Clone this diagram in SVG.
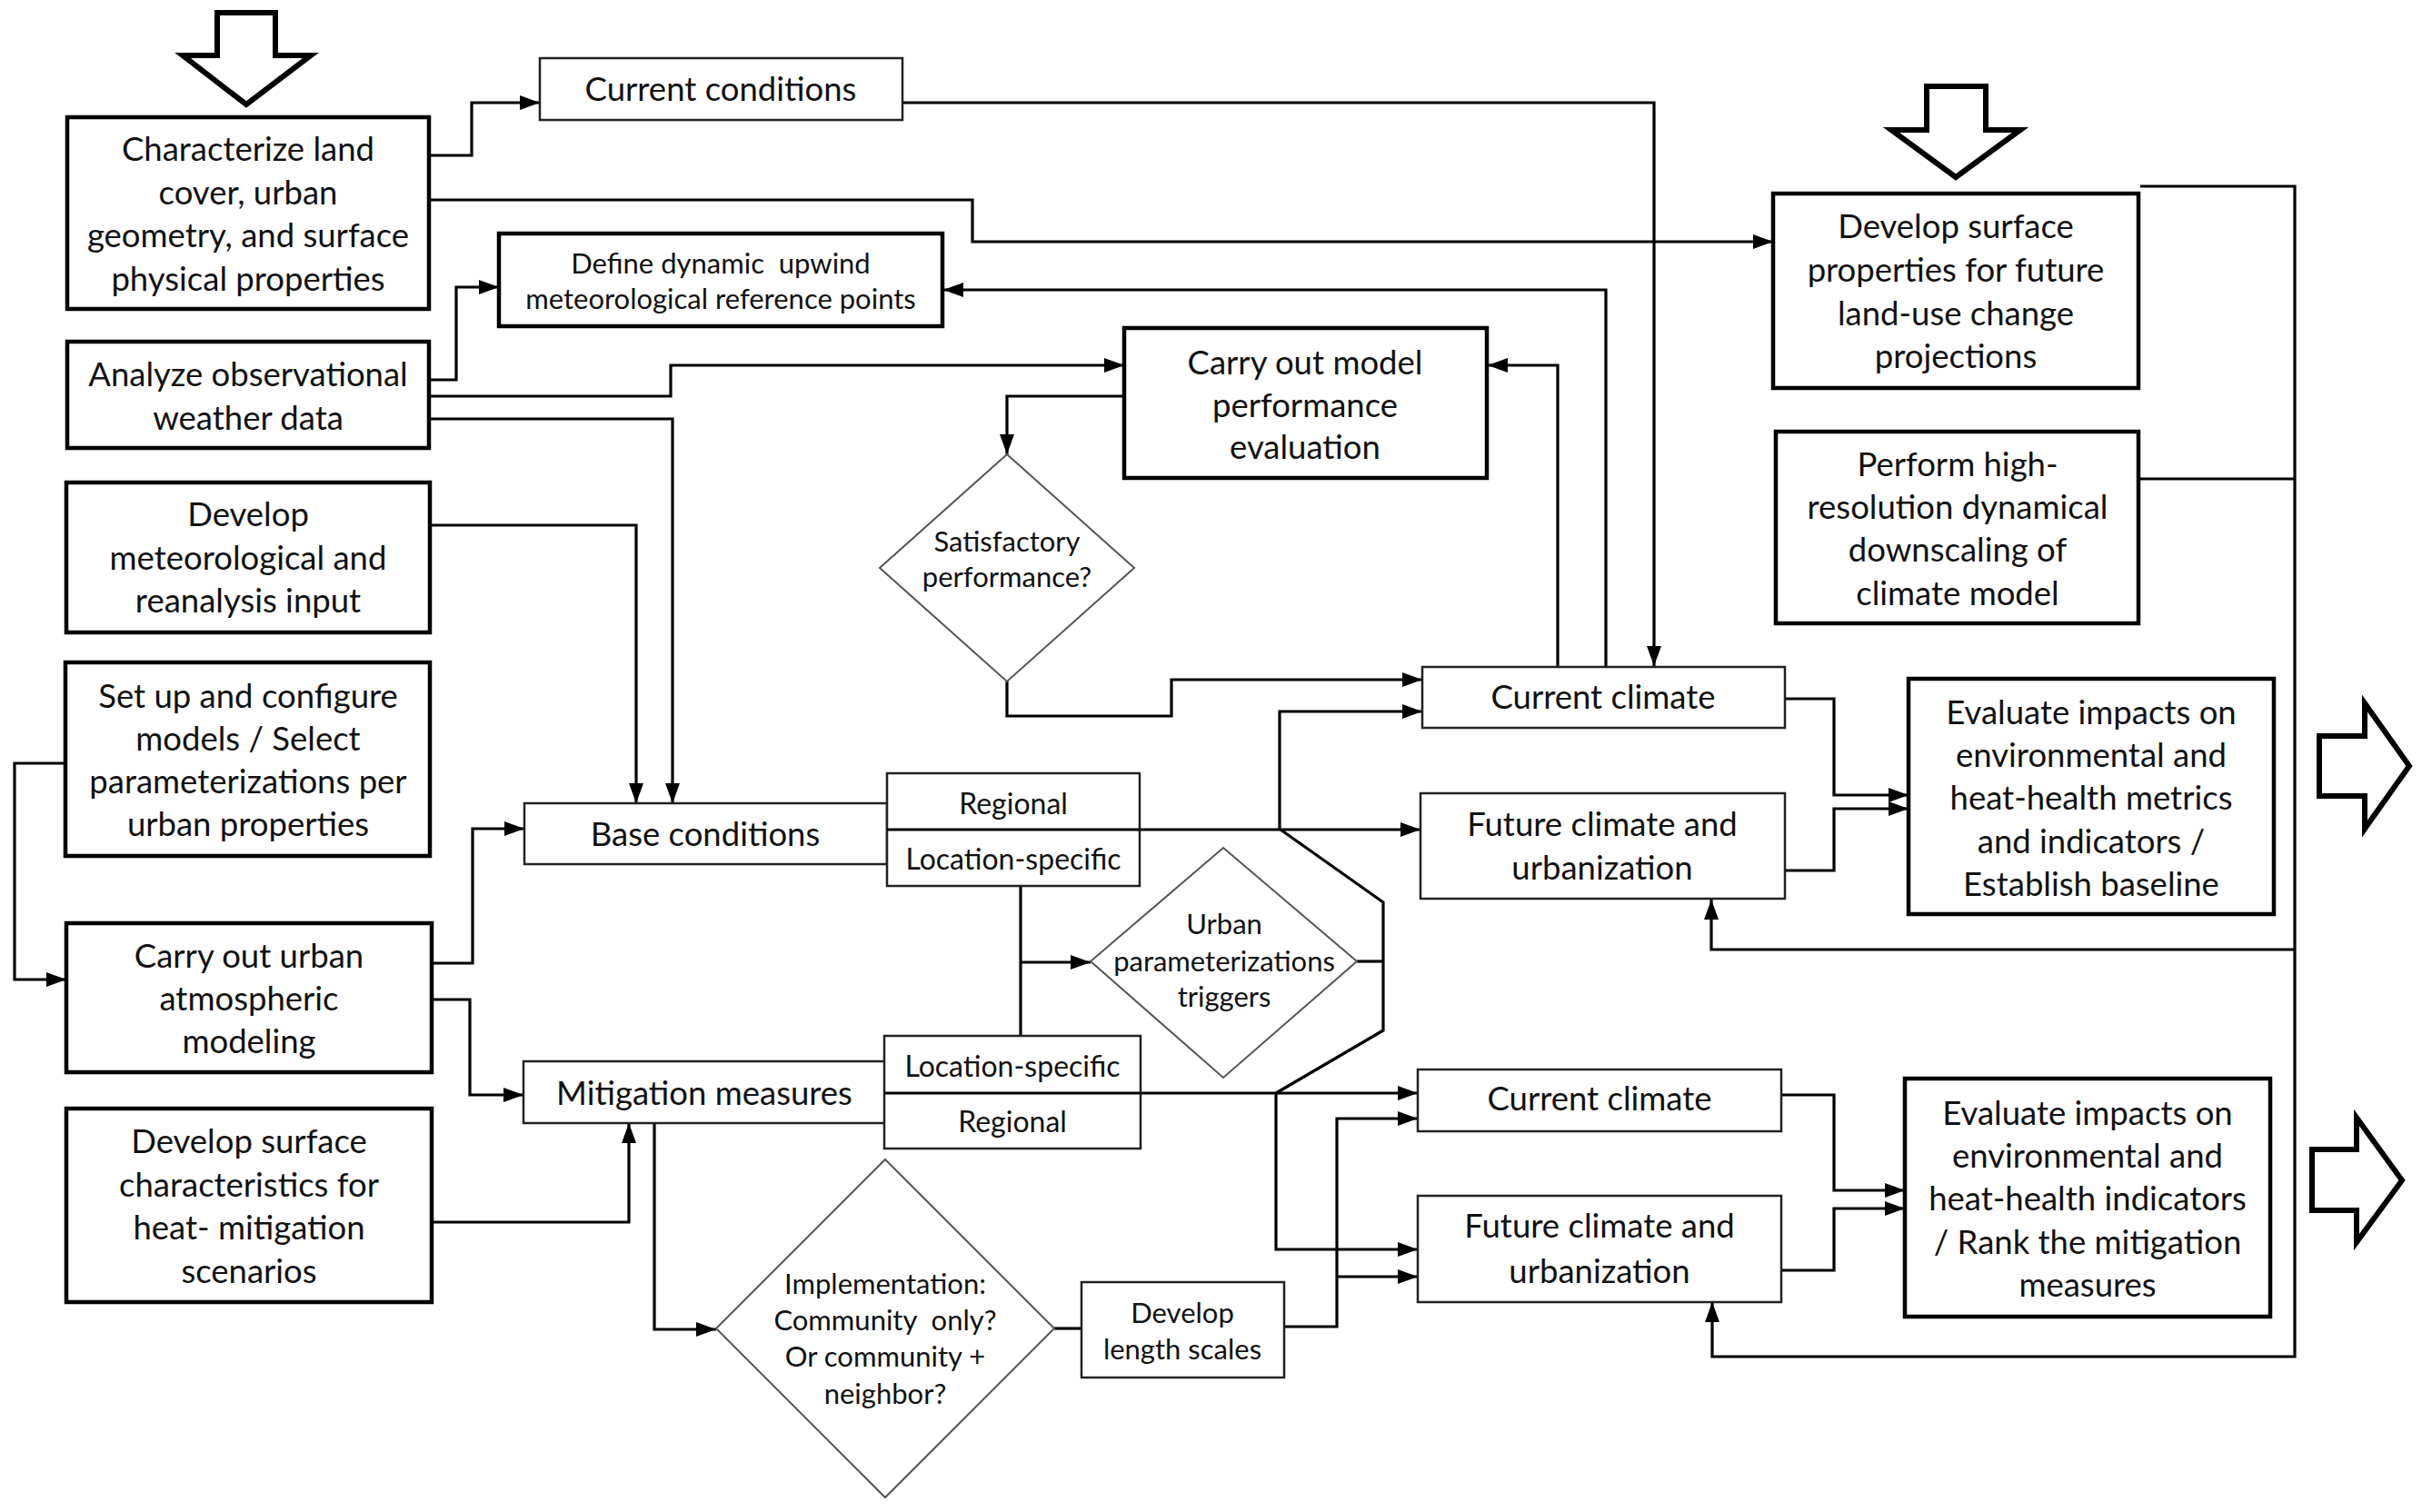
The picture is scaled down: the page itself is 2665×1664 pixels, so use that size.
<svg xmlns="http://www.w3.org/2000/svg" width="2665" height="1664" viewBox="0 0 2665 1664">
<defs>
<marker id="ah" markerWidth="24" markerHeight="18" refX="22" refY="9" orient="auto" markerUnits="userSpaceOnUse"><path d="M0,1 L22,9 L0,17 z" fill="#000"/></marker>
<style>
.bk{fill:#fff;stroke:#000;stroke-width:4.5}
.bn{fill:#fff;stroke:#222;stroke-width:2.5}
.dm{fill:#fff;stroke:#555;stroke-width:2}
.big{fill:#fff;stroke:#000;stroke-width:6;stroke-linejoin:miter}
.c{fill:none;stroke:#000;stroke-width:3.2}
.a{marker-end:url(#ah)}
text{font-family:Lato,"Open Sans","Liberation Sans",sans-serif;fill:#111;text-anchor:middle;dominant-baseline:central}
.t{font-size:36.5px}
.s{font-size:31px}
.r{font-size:32px}
.pre{white-space:pre}
</style>
</defs>
<rect width="2665" height="1664" fill="#fff"/>

<!-- big arrows -->
<g id="arrow-top-left"><path class="big" d="M239,14 H303 V61 H342 L271,115 L201,61 H239 Z"/></g>
<g id="arrow-top-right"><path class="big" d="M2120,95 H2185 V143 H2223 L2152,195 L2081,143 H2120 Z"/></g>
<g id="arrow-right-1"><path class="big" d="M2552,810 H2602 V774 L2651,843 L2602,912 V876 H2552 Z"/></g>
<g id="arrow-right-2"><path class="big" d="M2544,1265 H2593 V1230 L2643,1299 L2593,1367 V1332 H2544 Z"/></g>

<g id="connectors">
<path class="c a" d="M472,171 H519 V113 H594"/>
<path class="c a" d="M472,220 H1070 V266 H1951"/>
<path class="c a" d="M472,418 H502 V316 H549"/>
<path class="c a" d="M472,436 H738 V402 H1237"/>
<path class="c a" d="M472,461 H740 V884"/>
<path class="c a" d="M473,578 H700 V884"/>
<path class="c a" d="M71,840 H16 V1078 H73"/>
<path class="c a" d="M475,1060 H520 V912 H577"/>
<path class="c a" d="M475,1100 H517 V1205 H576"/>
<path class="c a" d="M475,1345 H692 V1236"/>
<path class="c a" d="M720,1236 V1463 H788"/>
<path class="c" d="M1160,1462 H1190"/>
<path class="c a" d="M1413,1460 H1471 V1231 H1560"/>
<path class="c a" d="M1471,1405 H1560"/>
<path class="c a" d="M1255,1203 H1560"/>
<path class="c a" d="M1404,1203 V1375 H1560"/>
<path class="c a" d="M1254,913 H1563"/>
<path class="c a" d="M1408,913 V783 H1565"/>
<path class="c" d="M1409,913 L1522,993 V1134 L1404,1203"/>
<path class="c" d="M1493,1058 H1522"/>
<path class="c" d="M1123,975 V1140"/>
<path class="c a" d="M1123,1059 H1200"/>
<path class="c a" d="M1237,436 H1108 V500"/>
<path class="c a" d="M1108,750 V788 H1289 V748 H1565"/>
<path class="c a" d="M1714,733 V402 H1637"/>
<path class="c a" d="M1767,733 V319 H1038"/>
<path class="c a" d="M993,113 H1820 V733"/>
<path class="c a" d="M1964,769 H2018 V875 H2100"/>
<path class="c a" d="M1964,958 H2018 V890 H2100"/>
<path class="c a" d="M1960,1205 H2018 V1310 H2096"/>
<path class="c a" d="M1960,1398 H2018 V1330 H2096"/>
<path class="c a" d="M2355,205 H2525 V1493 H1884 V1433"/>
<path class="c" d="M2353,527 H2525"/>
<path class="c a" d="M2525,1045 H1883 V990"/>
</g>

<g id="n-characterize"><rect class="bk" x="74" y="129" width="398" height="211"/>
<text class="t" x="273" y="163">Characterize land</text><text class="t" x="273" y="211">cover, urban</text><text class="t" x="273" y="258">geometry, and surface</text><text class="t" x="273" y="306">physical properties</text></g>

<g id="n-current-conditions"><rect class="bn" x="594" y="64" width="399" height="68"/>
<text class="t" x="793" y="97">Current conditions</text></g>

<g id="n-define"><rect class="bk" x="549" y="257" width="488" height="102"/>
<text class="s pre" x="793" y="289">Define dynamic  upwind</text><text class="s" x="793" y="328">meteorological reference points</text></g>

<g id="n-analyze"><rect class="bk" x="74" y="376" width="398" height="117"/>
<text class="t" x="273" y="411">Analyze observational</text><text class="t" x="273" y="459">weather data</text></g>

<g id="n-model-eval"><rect class="bk" x="1237" y="361" width="399" height="165"/>
<text class="t" x="1436" y="398">Carry out model</text><text class="t" x="1436" y="445">performance</text><text class="t" x="1436" y="491">evaluation</text></g>

<g id="n-satisfactory"><path class="dm" d="M1108,500 L1248,625 L1108,750 L968,625 Z"/>
<text class="s" x="1108" y="595">Satisfactory</text><text class="s" x="1108" y="634">performance?</text></g>

<g id="n-met-input"><rect class="bk" x="73" y="531" width="400" height="165"/>
<text class="t" x="273" y="565">Develop</text><text class="t" x="273" y="613">meteorological and</text><text class="t" x="273" y="660">reanalysis input</text></g>

<g id="n-setup"><rect class="bk" x="72" y="729" width="401" height="213"/>
<text class="t" x="273" y="765">Set up and configure</text><text class="t" x="273" y="812">models / Select</text><text class="t" x="273" y="859">parameterizations per</text><text class="t" x="273" y="906">urban properties</text></g>

<g id="n-base"><rect class="bn" x="577" y="884" width="399" height="67"/>
<text class="t" x="776" y="917">Base conditions</text></g>

<g id="n-base-split"><rect class="bn" x="976" y="851" width="278" height="124"/>
<line x1="976" y1="913" x2="1254" y2="913" stroke="#000" stroke-width="3.2"/>
<text class="r" x="1115" y="883">Regional</text><text class="r" x="1115" y="944">Location-specific</text></g>

<g id="n-urban-param"><path class="dm" d="M1346,933 L1493,1058 L1346,1186 L1200,1058 Z"/>
<text class="s" x="1347" y="1016">Urban</text><text class="s" x="1347" y="1057">parameterizations</text><text class="s" x="1347" y="1096">triggers</text></g>

<g id="n-current-climate-1"><rect class="bn" x="1565" y="734" width="399" height="67"/>
<text class="t" x="1764" y="766">Current climate</text></g>

<g id="n-future-climate-1"><rect class="bn" x="1563" y="873" width="401" height="116"/>
<text class="t" x="1763" y="906">Future climate and</text><text class="t" x="1763" y="954">urbanization</text></g>

<g id="n-surface-props"><rect class="bk" x="1951" y="213" width="402" height="214"/>
<text class="t" x="2152" y="248">Develop surface</text><text class="t" x="2152" y="296">properties for future</text><text class="t" x="2152" y="344">land-use change</text><text class="t" x="2152" y="391">projections</text></g>

<g id="n-downscaling"><rect class="bk" x="1954" y="475" width="399" height="211"/>
<text class="t" x="2154" y="510">Perform high-</text><text class="t" x="2154" y="557">resolution dynamical</text><text class="t" x="2154" y="604">downscaling of</text><text class="t" x="2154" y="652">climate model</text></g>

<g id="n-evaluate-1"><rect class="bk" x="2100" y="747" width="402" height="259"/>
<text class="t" x="2301" y="783">Evaluate impacts on</text><text class="t" x="2301" y="830">environmental and</text><text class="t" x="2301" y="877">heat-health metrics</text><text class="t" x="2301" y="925">and indicators /</text><text class="t" x="2301" y="972">Establish baseline</text></g>

<g id="n-urban-modeling"><rect class="bk" x="73" y="1016" width="402" height="164"/>
<text class="t" x="274" y="1051">Carry out urban</text><text class="t" x="274" y="1098">atmospheric</text><text class="t" x="274" y="1145">modeling</text></g>

<g id="n-mitigation"><rect class="bn" x="576" y="1168" width="398" height="68"/>
<text class="t" x="775" y="1202">Mitigation measures</text></g>

<g id="n-mit-split"><rect class="bn" x="973" y="1140" width="282" height="124"/>
<line x1="973" y1="1203" x2="1255" y2="1203" stroke="#000" stroke-width="3.2"/>
<text class="r" x="1114" y="1172">Location-specific</text><text class="r" x="1114" y="1233">Regional</text></g>

<g id="n-surface-char"><rect class="bk" x="73" y="1220" width="402" height="213"/>
<text class="t" x="274" y="1255">Develop surface</text><text class="t" x="274" y="1303">characteristics for</text><text class="t" x="274" y="1350">heat- mitigation</text><text class="t" x="274" y="1398">scenarios</text></g>

<g id="n-implementation"><path class="dm" d="M974,1276 L1160,1462 L974,1648 L788,1462 Z"/>
<text class="s" x="974" y="1412">Implementation:</text><text class="s pre" x="974" y="1452">Community  only?</text><text class="s" x="974" y="1492">Or community +</text><text class="s" x="974" y="1533">neighbor?</text></g>

<g id="n-length-scales"><rect class="bn" x="1190" y="1411" width="223" height="105"/>
<text class="s" x="1301" y="1444">Develop</text><text class="s" x="1301" y="1484">length scales</text></g>

<g id="n-current-climate-2"><rect class="bn" x="1560" y="1177" width="400" height="68"/>
<text class="t" x="1760" y="1208">Current climate</text></g>

<g id="n-future-climate-2"><rect class="bn" x="1560" y="1316" width="400" height="117"/>
<text class="t" x="1760" y="1348">Future climate and</text><text class="t" x="1760" y="1398">urbanization</text></g>

<g id="n-evaluate-2"><rect class="bk" x="2096" y="1187" width="402" height="262"/>
<text class="t" x="2297" y="1224">Evaluate impacts on</text><text class="t" x="2297" y="1271">environmental and</text><text class="t" x="2297" y="1318">heat-health indicators</text><text class="t" x="2297" y="1366">/ Rank the mitigation</text><text class="t" x="2297" y="1413">measures</text></g>
</svg>
